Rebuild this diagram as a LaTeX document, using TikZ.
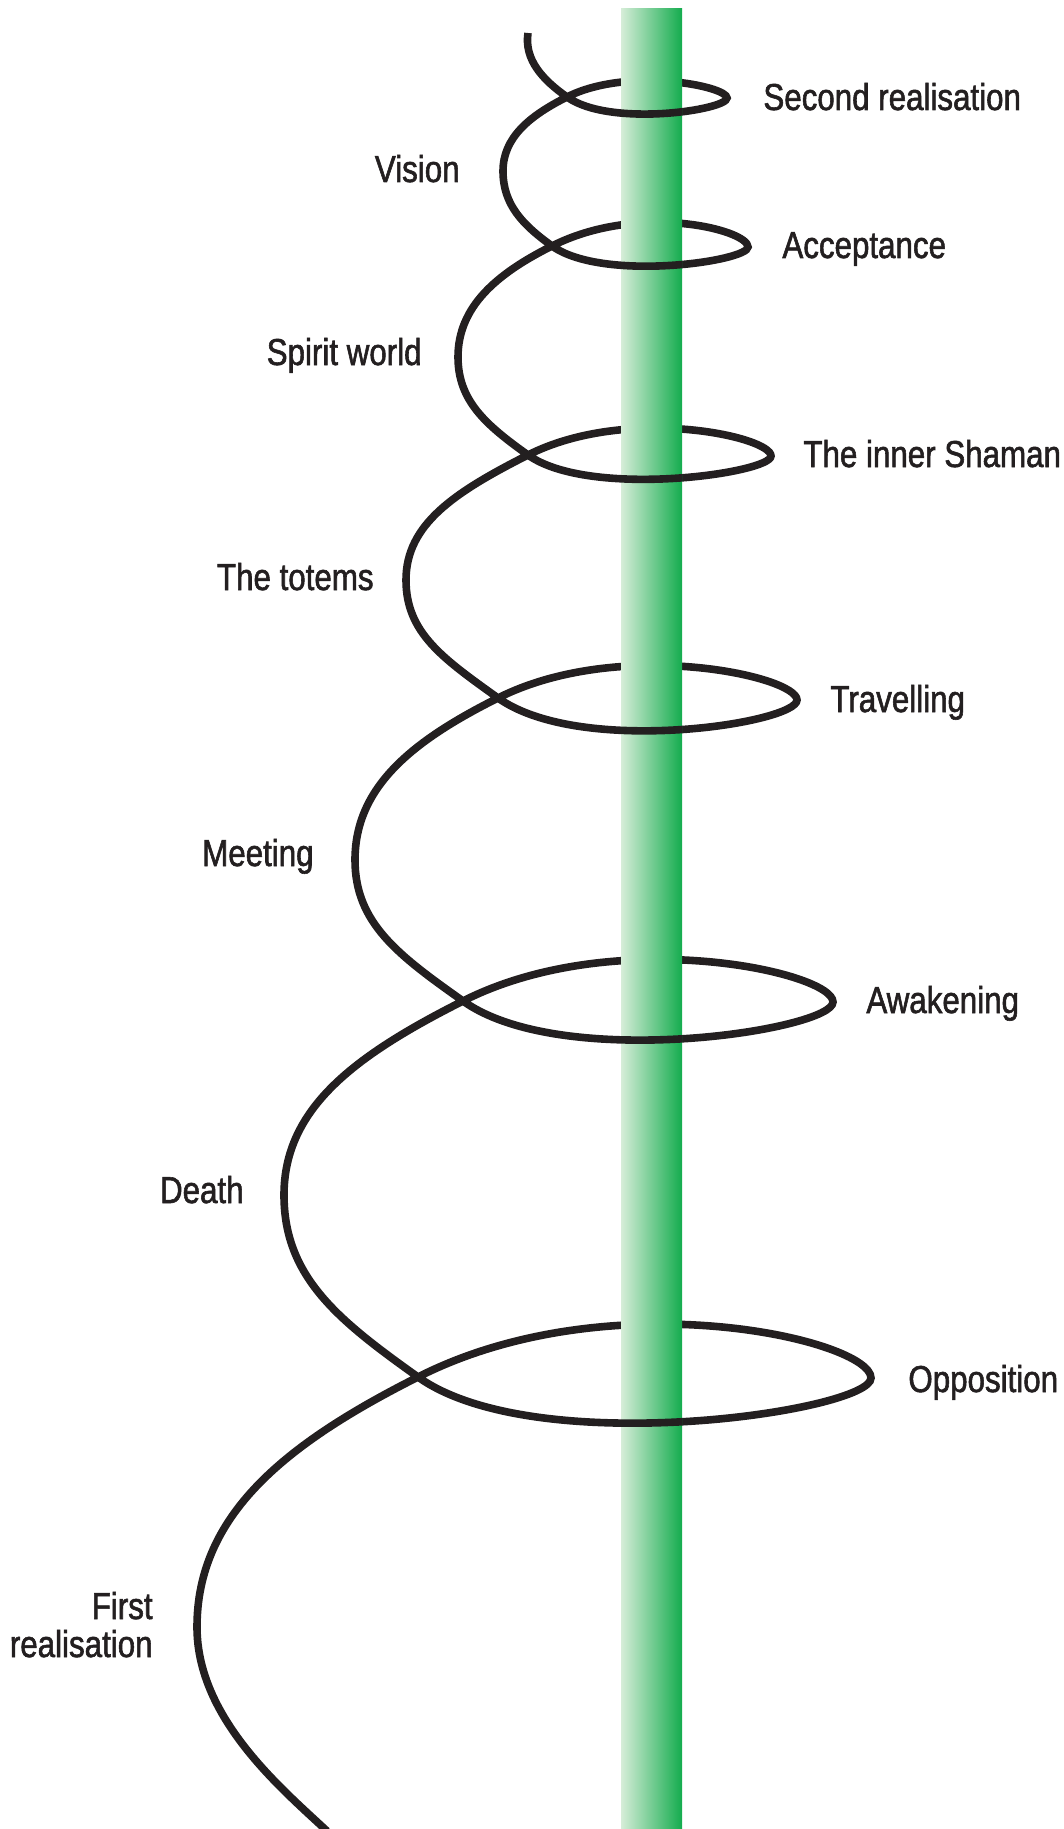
\documentclass[tikz,border=0pt]{standalone}
\usepackage{fontspec}
\setmainfont{Liberation Sans}[FakeStretch=0.835,FakeBold=1.5]
\definecolor{ink}{RGB}{35,31,32}
\definecolor{poleL}{RGB}{214,237,216}
\definecolor{poleR}{RGB}{20,172,78}
\tikzset{
  spiral/.style={draw=ink, line width=3.8pt},
  lbl/.style={inner sep=0pt, text=ink, font=\fontsize{18.75pt}{19pt}\selectfont},
  lblR/.style={lbl, anchor=base west},
  lblL/.style={lbl, anchor=base east}
}
\newcommand\frontarcs{
 (C1) .. controls (610,127.7) and (727,110) .. (R1)
 (C2) .. controls (603,282.4) and (748,261.25) .. (R2)
 (C3) .. controls (589.5,499) and (771,473.25) .. (R3)
 (C4) .. controls (581,757) and (797,723) .. (R4)
 (C5) .. controls (562,1072) and (833,1030) .. (R5)
 (C6) .. controls (535.5,1461) and (871,1411) .. (R6)
}
\begin{document}
\begin{tikzpicture}[x=0.5pt,y=-0.5pt]
\useasboundingbox (0,0) rectangle (1064,1829);
\clip (0,0) rectangle (1064,1829);
% spiral key points
\coordinate (S) at (528,33);
\coordinate (C1) at (567,97);   \coordinate (R1) at (727,98);
\coordinate (L1) at (503,171);
\coordinate (C2) at (552,246);  \coordinate (R2) at (748,247);
\coordinate (L2) at (458,357);
\coordinate (C3) at (528,455);  \coordinate (R3) at (771,456);
\coordinate (L3) at (406,580);
\coordinate (C4) at (498,698);  \coordinate (R4) at (797,700);
\coordinate (L4) at (355,860);
\coordinate (C5) at (463,1001); \coordinate (R5) at (833,1002);
\coordinate (L5) at (284,1195);
\coordinate (C6) at (418,1377); \coordinate (R6) at (871,1378);
\coordinate (L6) at (197,1627);
\coordinate (E) at (327,1831);
% whole spiral
\draw[spiral] (S) .. controls (524,60) and (543,80) .. (C1)
 .. controls (610,127.7) and (727,110) .. (R1)
 .. controls (727,86) and (627.5,66.4) .. (C1)
 .. controls (529,116) and (503,138) .. (L1)
 .. controls (503,205) and (523,225) .. (C2)
 .. controls (603,282.4) and (748,261.25) .. (R2)
 .. controls (748,229.75) and (639,202) .. (C2)
 .. controls (496,274) and (458,307) .. (L2)
 .. controls (458,401) and (486,425) .. (C3)
 .. controls (589.5,499) and (771,473.25) .. (R3)
 .. controls (771,436.5) and (627,405) .. (C3)
 .. controls (455,492) and (406,524) .. (L3)
 .. controls (406,633) and (443,658.5) .. (C4)
 .. controls (581,757) and (797,723) .. (R4)
 .. controls (797,676) and (619,637) .. (C4)
 .. controls (412,741) and (355,787) .. (L4)
 .. controls (355,923) and (398,955) .. (C5)
 .. controls (562,1072) and (833,1030) .. (R5)
 .. controls (833,972) and (615,924) .. (C5)
 .. controls (355,1055.5) and (284,1108) .. (L5)
 .. controls (284,1277) and (338,1320) .. (C6)
 .. controls (535.5,1461) and (871,1411) .. (R6)
 .. controls (871,1340) and (611,1279) .. (C6)
 .. controls (285,1444) and (197,1515) .. (L6)
 .. controls (197,1718) and (281,1788) .. (E);
% the pole
\shade[left color=poleL, right color=poleR] (621,9) rectangle (682,1829);
% front parts of the spiral, over the pole
\begin{scope}
\clip (621,9) rectangle (682,1829);
\draw[spiral] \frontarcs;
\end{scope}
% labels
\node[lblR] (t1) at (763,110) {Second realisation};
\node[lblL] (t2) at (460,182) {Vision};
\node[lblR] (t3) at (782,258) {Acceptance};
\node[lblL] (t4) at (422,365) {Spirit world};
\node[lblR] (t5) at (803,467) {The inner Shaman};
\node[lblL] (t6) at (374,590) {The totems};
\node[lblR] (t7) at (830,712) {Travelling};
\node[lblL] (t8) at (314,866) {Meeting};
\node[lblR] (t9) at (866,1013) {Awakening};
\node[lblL] (t10) at (244,1203) {Death};
\node[lblR] (t11) at (908,1392) {Opposition};
\node[lblL] (t12) at (153,1619) {First};
\node[lblL] (t13) at (153,1657) {realisation};
\end{tikzpicture}
\end{document}
